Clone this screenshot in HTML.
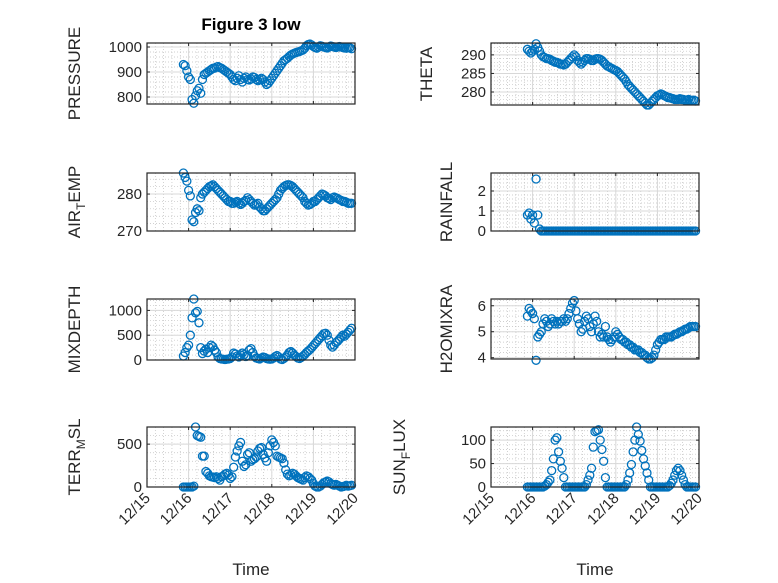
<!DOCTYPE html>
<html><head><meta charset="utf-8"><style>
body{margin:0;background:#fff}
svg{display:block;font-family:"Liberation Sans","DejaVu Sans",sans-serif}
</style></head><body>
<svg id="fig" width="778" height="583" viewBox="0 0 778 583">
<rect width="778" height="583" fill="#fff"/>
<text x="251" y="30" text-anchor="middle" font-size="17" font-weight="bold" fill="#000">Figure 3 low</text>
</svg>
<script>
// time: days since 12/15 00:00, hourly from 12/15 21:00
const startDay = 0.875;
const xTickLabels = ["12/15","12/16","12/17","12/18","12/19","12/20"];
const pressure = [930,925,905,
880,870,790,775,805,825,835,815,870,890,895,900,905,910,915,915,920,922,918,915,910,905,900,895,
890,880,870,865,875,885,870,860,875,880,870,868,872,880,878,870,865,870,875,870,860,850,855,865,
875,885,895,905,915,925,935,945,950,955,962,968,972,975,978,980,982,985,988,995,1005,1010,1012,1008,
1002,998,995,1000,1005,1003,1000,998,996,1000,1004,1002,1000,998,1000,1002,1000,998,996,995,998,997,993];
const airTemp = [285.7,284.5,283.5,
281,279.5,273,272.5,275,276,275.5,279,280,280.5,281,281.5,282,282.2,282.5,282,281.5,281,280.5,280,279.5,279,278.5,278,
278,277.5,277.5,277.8,278,277.5,277.2,277.5,278,278.3,279,278.5,278,277.5,277,277.2,277.5,276.5,276,275.5,275.5,276,276.5,277,
277.5,278,278.5,279,280,281,281.5,282,282.3,282.5,282.5,282.3,282,281.5,281,280.5,280,279.5,279,278,277.5,277,277.2,277.5,
278,278,278.5,279,279.5,280,279.8,279.5,279,278.8,278.5,279,279.2,279,278.8,278.5,278.3,278,278,277.8,277.5,277.5,277.5];
const mixDepth = [80,150,250,
300,500,850,1230,950,980,750,250,130,180,220,150,250,300,270,200,150,60,30,20,15,10,15,20,
30,60,140,120,80,60,100,140,110,70,90,200,230,150,80,40,30,20,40,60,50,30,20,15,
20,40,70,90,60,20,10,30,60,100,150,170,140,100,70,40,30,50,80,110,150,180,210,250,
290,330,370,410,450,490,530,540,500,400,300,260,300,350,380,420,460,500,480,520,560,600,640];
const terrMsl = [0,0,0,
0,0,0,10,700,600,590,580,360,360,180,160,130,120,115,110,120,100,80,120,130,150,160,140,
100,120,230,350,420,480,520,300,240,260,380,400,300,320,330,350,420,450,460,380,340,300,400,480,
550,520,480,360,350,340,330,280,200,150,130,140,160,150,130,110,100,90,80,110,130,120,100,80,
40,10,0,0,10,30,50,60,70,60,40,30,20,30,20,10,0,5,10,20,10,15,20];
const theta = [291.5,291,290.5,
291,291.5,293,292,291,290,289.5,289.3,289,289,288.8,288.5,288.3,288,288,287.8,287.5,287.5,287.3,287.5,288,288.5,289,289.5,
290,289.5,288.5,288,287.5,288,288.5,289,289,288.8,288.5,288.5,288.8,289,289,288.8,288.5,288,287.5,287,286.8,286.5,286.3,286,
285.8,285.5,285,284.5,284,283.5,282.8,282,281.5,281,280.5,280,279.5,279,278.5,278,277.5,277,276.5,276.5,277,277.5,278,278.5,
279,279.2,279.5,279.3,279,278.8,278.5,278.5,278.3,278.2,278,278,278,278.2,278,278,277.8,277.8,278,277.8,277.7,277.8,277.6];
const rainfall = [0.8,0.9,0.6,
0.8,0.4,2.6,0.8,0.1,0,0,0,0,0,0,0,0,0,0,0,0,0,0,0,0,0,0,0,
0,0,0,0,0,0,0,0,0,0,0,0,0,0,0,0,0,0,0,0,0,0,0,0,
0,0,0,0,0,0,0,0,0,0,0,0,0,0,0,0,0,0,0,0,0,0,0,0,
0,0,0,0,0,0,0,0,0,0,0,0,0,0,0,0,0,0,0,0,0,0,0];
const h2oMix = [5.6,5.9,5.8,
5.7,5.5,3.9,4.8,4.9,5.0,5.3,5.5,5.4,5.2,5.3,5.5,5.4,5.3,5.4,5.3,5.4,5.4,5.5,5.4,5.5,5.7,5.9,6.1,
6.2,5.8,5.5,5.3,5.0,5.1,5.4,5.6,5.5,5.2,5.0,5.3,5.6,5.4,5.0,4.8,4.9,4.8,5.2,4.8,4.7,4.6,4.7,4.8,
5.0,4.9,4.8,4.7,4.7,4.6,4.6,4.5,4.5,4.4,4.4,4.3,4.3,4.3,4.2,4.2,4.1,4.1,4.0,3.95,3.95,4.0,4.1,4.3,
4.5,4.6,4.7,4.7,4.7,4.8,4.8,4.8,4.8,4.85,4.9,4.9,4.95,5.0,5.0,5.05,5.1,5.1,5.15,5.2,5.2,5.2,5.2];
const sunFlux = [0,0,0,
0,0,0,0,0,0,0,2,5,10,15,35,60,100,105,75,55,40,20,0,0,0,0,0,
0,0,0,0,0,0,0,5,15,25,40,85,118,120,122,100,80,55,20,0,0,0,0,0,
0,0,0,0,0,0,5,15,30,48,75,100,128,112,98,78,60,45,30,15,0,0,0,0,
0,0,0,0,0,0,0,3,8,15,25,35,40,35,25,15,5,0,0,0,0,0,0];
const pressureTicks=[800,900,1000], airTicks=[270,280], mixTicks=[0,500,1000], terrTicks=[0,500];
const thetaTicks=[280,285,290], rainTicks=[0,1,2], h2oTicks=[4,5,6], sunTicks=[0,50,100];

const NS="http://www.w3.org/2000/svg";
const svg=document.getElementById('fig');
function mk(tag,attrs,parent){const e=document.createElementNS(NS,tag);for(const k in attrs)e.setAttribute(k,attrs[k]);(parent||svg).appendChild(e);return e;}

const panels=[
 {name:'pressure',data:pressure,ticks:pressureTicks,ymin:772,ymax:1016,minor:20,x0:147,x1:355,y0:43,y1:104,label:['PRESSURE'],lx:80,xt:false},
 {name:'air-temp',data:airTemp,ticks:airTicks,ymin:270,ymax:285.7,minor:2,x0:147,x1:355,y0:173,y1:231,label:['AIR','T','EMP'],lx:80,xt:false},
 {name:'mixdepth',data:mixDepth,ticks:mixTicks,ymin:0,ymax:1230,minor:100,x0:147,x1:355,y0:299,y1:360,label:['MIXDEPTH'],lx:80,xt:false},
 {name:'terr-msl',data:terrMsl,ticks:terrTicks,ymin:0,ymax:700,minor:100,x0:147,x1:355,y0:427,y1:487,label:['TERR','M','SL'],lx:80,xt:true},
 {name:'theta',data:theta,ticks:thetaTicks,ymin:276.5,ymax:293.2,minor:1,x0:491,x1:699,y0:43,y1:105,label:['THETA'],lx:432,xt:false},
 {name:'rainfall',data:rainfall,ticks:rainTicks,ymin:0,ymax:2.9,minor:0.2,x0:491,x1:699,y0:173,y1:231,label:['RAINFALL'],lx:452,xt:false},
 {name:'h2omixra',data:h2oMix,ticks:h2oTicks,ymin:3.95,ymax:6.26,minor:0.2,x0:491,x1:699,y0:299,y1:359,label:['H2OMIXRA'],lx:452,xt:false},
 {name:'sun-flux',data:sunFlux,ticks:sunTicks,ymin:0,ymax:128,minor:10,x0:491,x1:699,y0:427,y1:487,label:['SUN','F','LUX'],lx:405,xt:true}
];

panels.forEach(p=>{
 const g=mk('g',{});
 
 
 const xs=d=>p.x0+(d/5)*(p.x1-p.x0);
 const ys=v=>p.y1-(v-p.ymin)/(p.ymax-p.ymin)*(p.y1-p.y0);
 for(let d=0;d<=5.001;d+=0.2){const x=xs(d);mk('line',{x1:x,x2:x,y1:p.y0,y2:p.y1,stroke:'#c0c0c0','stroke-width':0.7,'stroke-dasharray':'1,2'},g);}
 for(let v=Math.ceil(p.ymin/p.minor)*p.minor;v<=p.ymax;v+=p.minor){const y=ys(v);mk('line',{x1:p.x0,x2:p.x1,y1:y,y2:y,stroke:'#c0c0c0','stroke-width':0.7,'stroke-dasharray':'1,2'},g);}
 for(let d=0;d<=5;d++){const x=xs(d);mk('line',{x1:x,x2:x,y1:p.y0,y2:p.y1,stroke:'#d8d8d8','stroke-width':1},g);}
 p.ticks.forEach(v=>{const y=ys(v);mk('line',{x1:p.x0,x2:p.x1,y1:y,y2:y,stroke:'#d8d8d8','stroke-width':1},g);
  const t=mk('text',{x:p.x0-5,y:y+5,'text-anchor':'end','font-size':15,fill:'#262626'},g);t.textContent=String(v);
  
  
  mk('line',{x1:p.x0,x2:p.x0+3,y1:y,y2:y,stroke:'#262626'},g);mk('line',{x1:p.x1,x2:p.x1-3,y1:y,y2:y,stroke:'#262626'},g);});
 for(let d=0;d<=5;d++){const x=xs(d);mk('line',{x1:x,x2:x,y1:p.y1,y2:p.y1-3,stroke:'#262626'},g);mk('line',{x1:x,x2:x,y1:p.y0,y2:p.y0+3,stroke:'#262626'},g);
  if(p.xt){const t=mk('text',{x:x+4,y:p.y1+12,'text-anchor':'end','font-size':15,fill:'#262626',transform:`rotate(-45 ${x+4} ${p.y1+12})`},g);t.textContent=xTickLabels[d];
   
   }}
 p.data.forEach((v,i)=>{const c=mk('circle',{cx:xs(startDay+i/24),cy:ys(v),r:4,fill:'none',stroke:'#0072BD','stroke-width':1.3},g);
  
  });
 mk('rect',{x:p.x0,y:p.y0,width:p.x1-p.x0,height:p.y1-p.y0,fill:'none',stroke:'#262626','stroke-width':1.2},g);
 const cy=(p.y0+p.y1)/2;
 const yl=mk('text',{x:p.lx,y:cy,'text-anchor':'middle','font-size':17,fill:'#262626',transform:`rotate(-90 ${p.lx} ${cy})`},g);
 
 
 if(p.label.length===1){yl.textContent=p.label[0];}
 else{const a=mk('tspan',{},yl);a.textContent=p.label[0];const b=mk('tspan',{dy:5,'font-size':12},yl);b.textContent=p.label[1];const c=mk('tspan',{dy:-5},yl);c.textContent=p.label[2];}
 if(p.xt){const tl=mk('text',{x:(p.x0+p.x1)/2,y:575,'text-anchor':'middle','font-size':17,fill:'#262626'},g);tl.textContent='Time';
  
  }
});
</script>
</body></html>
